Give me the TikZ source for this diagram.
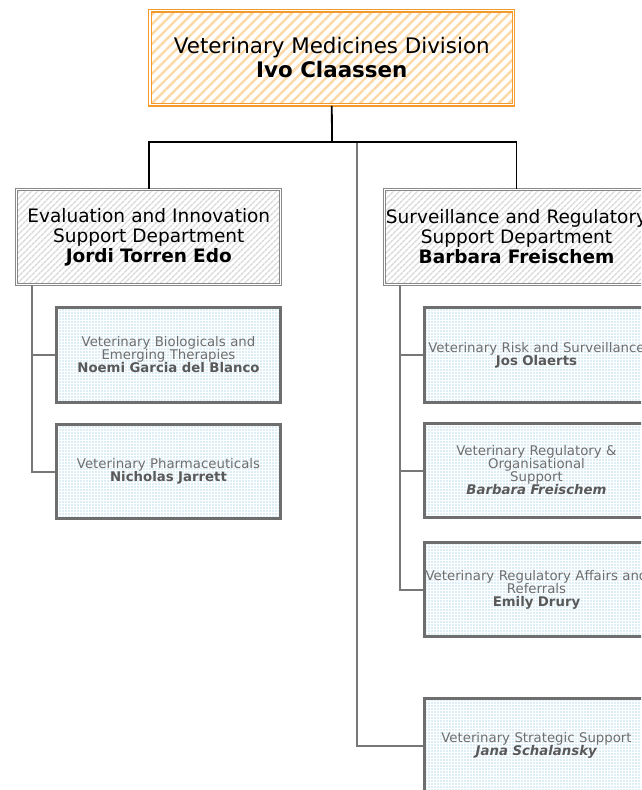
\documentclass[tikz,border=0pt]{standalone}
\usepackage{fontspec}
\setmainfont{DejaVu Sans}
\usepackage{xcolor}
\usetikzlibrary{patterns.meta}
\definecolor{divorange}{HTML}{F39A2C}
\definecolor{stripeorange}{HTML}{FDD9A8}
\definecolor{depgray}{HTML}{888888}
\definecolor{stripegray}{HTML}{D8D8D8}
\definecolor{unitgray}{HTML}{6E6E6E}
\definecolor{namegray}{HTML}{595959}
\definecolor{dotblue}{HTML}{BBDDF0}
\definecolor{linegray}{HTML}{777777}

\begin{document}
\begin{tikzpicture}[x=1pt,y=-1pt,
    division/.style={draw=divorange,line width=1.2pt,double=white,double distance=1.3pt,
      preaction={fill=white},pattern={Lines[angle=45,distance=7pt,line width=2.4pt]},
      pattern color=stripeorange,minimum width=363.5pt,minimum height=94pt,
      align=center,font=\fontsize{21.4}{24}\selectfont},
    department/.style={draw=depgray,line width=1pt,double=white,double distance=1pt,
      preaction={fill=white},pattern={Lines[angle=45,distance=4pt,line width=1.4pt]},
      pattern color=stripegray,inner xsep=1pt,text width=262pt,minimum height=95pt,
      align=center,font=\fontsize{18.5}{20}\selectfont},
    unit/.style={draw=unitgray,line width=2.6pt,preaction={fill=white},
      pattern={Dots[distance=3pt,radius=0.8pt]},pattern color=dotblue,
      inner xsep=1pt,text width=222.5pt,minimum height=94.5pt,align=center,text=unitgray,
      font=\fontsize{13.3}{13}\selectfont},
    mainline/.style={black,line width=1.8pt},
    subline/.style={linegray,line width=2pt}]
  \useasboundingbox (0,0) rectangle (641,790);
  \clip (0,0) rectangle (641,790);

  \node[division] (vmd) at (331.8,57.7) {Veterinary Medicines Division\\\textbf{Ivo Claassen}};
  \node[department] (eisd) at (148.8,237) {Evaluation and Innovation\\Support Department\\\textbf{Jordi Torren Edo}};
  \node[department] (srsd) at (516.5,237) {\mbox{Surveillance and Regulatory}\\Support Department\\\textbf{Barbara Freischem}};

  \node[unit] (vbet) at (168.5,355) {Veterinary Biologicals and\\Emerging Therapies\\\textcolor{namegray}{\textbf{Noemi Garcia del Blanco}}};
  \node[unit] (vph) at (168.5,471.5) {Veterinary Pharmaceuticals\\\textcolor{namegray}{\textbf{Nicholas Jarrett}}};
  \node[unit] (vrs) at (536.5,355) {\mbox{Veterinary Risk and Surveillance}\\\textcolor{namegray}{\textbf{Jos Olaerts}}};
  \node[unit] (vros) at (536.5,470.5) {Veterinary Regulatory \&\\Organisational\\Support\\\textcolor{namegray}{\textbf{\textit{Barbara Freischem}}}};
  \node[unit] (vrar) at (536.5,589.5) {\mbox{Veterinary Regulatory Affairs and}\\Referrals\\\textcolor{namegray}{\textbf{Emily Drury}}};
  \node[unit] (vss) at (536.5,745.5) {Veterinary Strategic Support\\\textcolor{namegray}{\textbf{\textit{Jana Schalansky}}}};

  \coordinate (bar) at (332,142);
  \coordinate (vsplit) at (357,142);
  \draw[subline] (vsplit) |- (vss.west);
  \draw[mainline] (vmd.south) -- (bar);
  \draw[mainline] (eisd.north) |- (bar) -| (srsd.north);
  \foreach \u in {vbet,vph}
    \draw[subline] ([xshift=16pt]eisd.south west) |- (\u.west);
  \foreach \u in {vrs,vros,vrar}
    \draw[subline] ([xshift=16pt]srsd.south west) |- (\u.west);
\end{tikzpicture}
\end{document}
